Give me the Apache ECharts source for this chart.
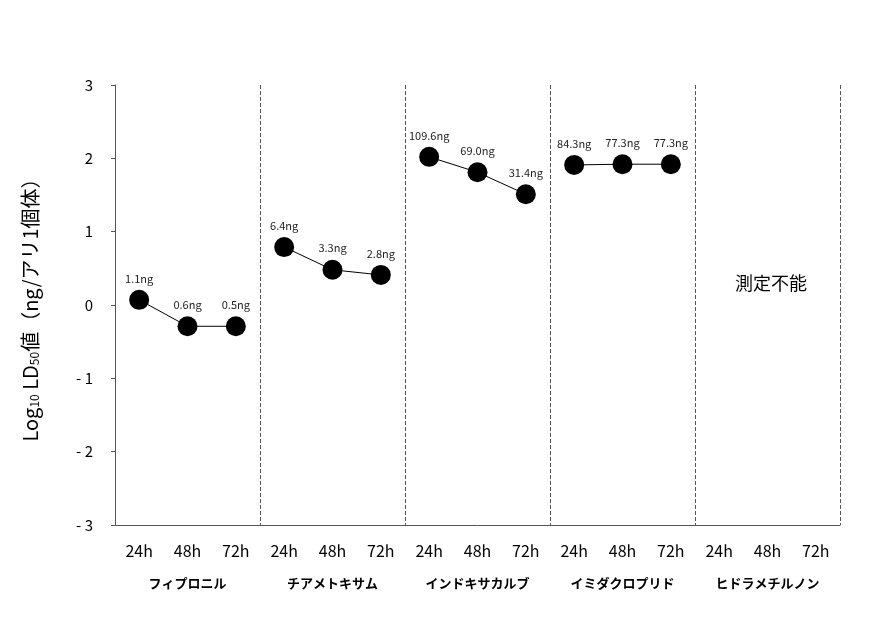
<!DOCTYPE html>
<html><head><meta charset="utf-8">
<script src="https://cdn.jsdelivr.net/npm/echarts@6/dist/echarts.min.js"></script>
<style>html,body{margin:0;background:#fff}#main{width:877px;height:633px}</style>
</head><body><div id="main"></div>
<script>
var hours = ['24h','48h','72h'];
var compounds = ['フィプロニル','チアメトキサム','インドキサカルブ','イミダクロプリド','ヒドラメチルノン'];
var logValues = [
  [0.07, -0.29, -0.29],
  [0.79, 0.48, 0.41],
  [2.02, 1.81, 1.51],
  [1.91, 1.92, 1.92]
];
var doseLabels = [
  ['1.1ng','0.6ng','0.5ng'],
  ['6.4ng','3.3ng','2.8ng'],
  ['109.6ng','69.0ng','31.4ng'],
  ['84.3ng','77.3ng','77.3ng']
];
var noDataText = '測定不能';

var cats = [];
compounds.forEach(function(c, g){ hours.forEach(function(h){ cats.push(h); }); });

var series = logValues.map(function(vals, g){
  var d = [];
  for (var i = 0; i < cats.length; i++) d.push(null);
  vals.forEach(function(v, j){
    d[g*3+j] = {value: v, label: {formatter: doseLabels[g][j]}};
  });
  return {
    type: 'line', data: d, symbol: 'circle', symbolSize: 20,
    lineStyle: {color: '#000', width: 1}, itemStyle: {color: '#000'},
    label: {show: true, position: 'top', distance: 6, fontSize: 11, color: '#222'},
    z: 3
  };
});

var font = 'Noto Sans CJK JP';
var chart = echarts.init(document.getElementById('main'));
chart.setOption({
  animation: false,
  textStyle: {fontFamily: font},
  grid: {left: 115, right: 37, top: 85, bottom: 108},
  xAxis: [{
    type: 'category', data: cats,
    axisLine: {onZero: false, lineStyle: {color: '#555'}},
    axisTick: {show: false},
    axisLabel: {color: '#000', fontSize: 16, margin: 18}
  }, {
    type: 'category', data: compounds, position: 'bottom',
    axisLine: {show: false}, axisTick: {show: false},
    axisLabel: {color: '#000', fontSize: 13, fontWeight: 'bold', margin: 52},
    splitLine: {show: true, interval: function(i){ return i > 0 && i < compounds.length; },
      lineStyle: {color: '#555', type: 'dashed'}}
  }],
  yAxis: {
    type: 'value', min: -3, max: 3, interval: 1,
    axisLine: {show: true, lineStyle: {color: '#555'}},
    axisTick: {show: true, length: 4},
    splitLine: {show: false},
    axisLabel: {color: '#000', fontSize: 15, margin: 22,
      formatter: function(v){ return v < 0 ? '- ' + (-v) : String(v); }},
    name: '{a|Log}{s|10}{a| LD}{s|50}{a|値（ng/アリ1個体）}',
    nameLocation: 'middle', nameRotate: 90, nameGap: 75,
    nameTextStyle: {rich: {
      a: {fontSize: 20, color: '#000', fontFamily: font},
      s: {fontSize: 12, color: '#000', fontFamily: font, verticalAlign: 'bottom', padding: [8,0,0,0]}
    }}
  },
  graphic: [{
    type: 'text', left: 735, top: 274,
    style: {text: noDataText, fontSize: 18, fill: '#000', fontFamily: font}
  }],
  series: series
});
</script></body></html>
